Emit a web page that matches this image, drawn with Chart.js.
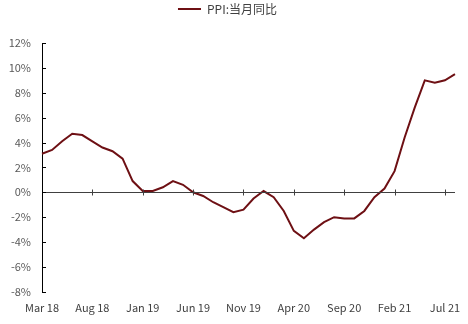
<!DOCTYPE html>
<html>
<head>
<meta charset="utf-8">
<script src="https://cdn.jsdelivr.net/npm/chart.js@4"></script>
<style>
  html, body { margin: 0; padding: 0; background: #fff; }
  #wrap { width: 468px; height: 324px; }
</style>
</head>
<body>
<div id="wrap"><canvas id="GraficoPPI"></canvas></div>
<script>
const meses = ['Mar 18','Apr 18','May 18','Jun 18','Jul 18','Aug 18','Sep 18','Oct 18','Nov 18','Dec 18',
  'Jan 19','Feb 19','Mar 19','Apr 19','May 19','Jun 19','Jul 19','Aug 19','Sep 19','Oct 19','Nov 19','Dec 19',
  'Jan 20','Feb 20','Mar 20','Apr 20','May 20','Jun 20','Jul 20','Aug 20','Sep 20','Oct 20','Nov 20','Dec 20',
  'Jan 21','Feb 21','Mar 21','Apr 21','May 21','Jun 21','Jul 21','Aug 21'];
const ppi = [3.1, 3.4, 4.1, 4.7, 4.6, 4.1, 3.6, 3.3, 2.7, 0.9,
  0.1, 0.1, 0.4, 0.9, 0.6, 0.0, -0.3, -0.8, -1.2, -1.6, -1.4, -0.5,
  0.1, -0.4, -1.5, -3.1, -3.7, -3.0, -2.4, -2.0, -2.1, -2.1, -1.5, -0.4,
  0.3, 1.7, 4.4, 6.8, 9.0, 8.8, 9.0, 9.5];
const ticksY = [-8, -6, -4, -2, 0, 2, 4, 6, 8, 10, 12];

const fonte = '"Noto Sans CJK SC", "Noto Sans", sans-serif';
const corLinha = '#6e1014';

// espaco extra abaixo da legenda
const legendaAlta = {
  id: 'legendaAlta',
  beforeInit(chart) {
    const fitOriginal = chart.legend.fit;
    chart.legend.fit = function () {
      fitOriginal.bind(chart.legend)();
      this.height += 18;
    };
  }
};

// eixo zero e marcas curtas
const eixos = {
  id: 'eixos',
  afterDatasetsDraw(chart) {
    const ctx = chart.ctx, x = chart.scales.x, y = chart.scales.y, area = chart.chartArea;
    const y0 = Math.round(y.getPixelForValue(0)) + 0.5;
    ctx.save();
    ctx.strokeStyle = '#404040';
    ctx.lineWidth = 1;
    ctx.beginPath();
    ctx.moveTo(area.left, y0);
    ctx.lineTo(area.right, y0);
    meses.forEach((m, i) => {
      if (i % 5 === 0 && i > 0) {
        const xi = Math.round(x.getPixelForValue(i)) + 0.5;
        ctx.moveTo(xi, y0 - 3);
        ctx.lineTo(xi, y0 + 3);
      }
    });
    ctx.stroke();
    ctx.strokeStyle = '#000';
    ctx.beginPath();
    ticksY.forEach(v => {
      const yi = Math.round(y.getPixelForValue(v)) + 0.5;
      ctx.moveTo(area.left, yi);
      ctx.lineTo(area.left + 4, yi);
    });
    ctx.stroke();
    ctx.restore();
  }
};

const grafico = new Chart(document.getElementById('GraficoPPI'), {
  type: 'line',
  data: {
    labels: meses,
    datasets: [{
      label: 'PPI:当月同比',
      data: ppi,
      borderColor: corLinha,
      backgroundColor: corLinha,
      borderWidth: 2,
      pointRadius: 0,
      tension: 0
    }]
  },
  options: {
    responsive: true,
    maintainAspectRatio: false,
    animation: false,
    layout: { padding: { top: 0, right: 13, left: 0, bottom: 1 } },
    plugins: {
      legend: {
        position: 'top',
        labels: {
          boxWidth: 23,
          boxHeight: 0,
          padding: 3,
          color: '#404040',
          font: { family: fonte, size: 12 }
        }
      },
      tooltip: { enabled: false }
    },
    scales: {
      x: {
        offset: false,
        grid: { display: false, drawTicks: false },
        border: { display: false },
        ticks: {
          autoSkip: false,
          maxRotation: 0,
          color: '#404040',
          padding: 9,
          font: { family: fonte, size: 11 },
          callback: (v, i) => i % 5 === 0 ? meses[i] : ''
        }
      },
      y: {
        min: -8,
        max: 12,
        afterFit: s => { s.width = 42; },
        grid: { display: false, drawTicks: false },
        border: { display: true, color: '#000', width: 1 },
        ticks: {
          stepSize: 2,
          color: '#595959',
          padding: 11,
          font: { family: fonte, size: 11 },
          callback: v => v + '%'
        }
      }
    }
  },
  plugins: [legendaAlta, eixos]
});
</script>
</body>
</html>
